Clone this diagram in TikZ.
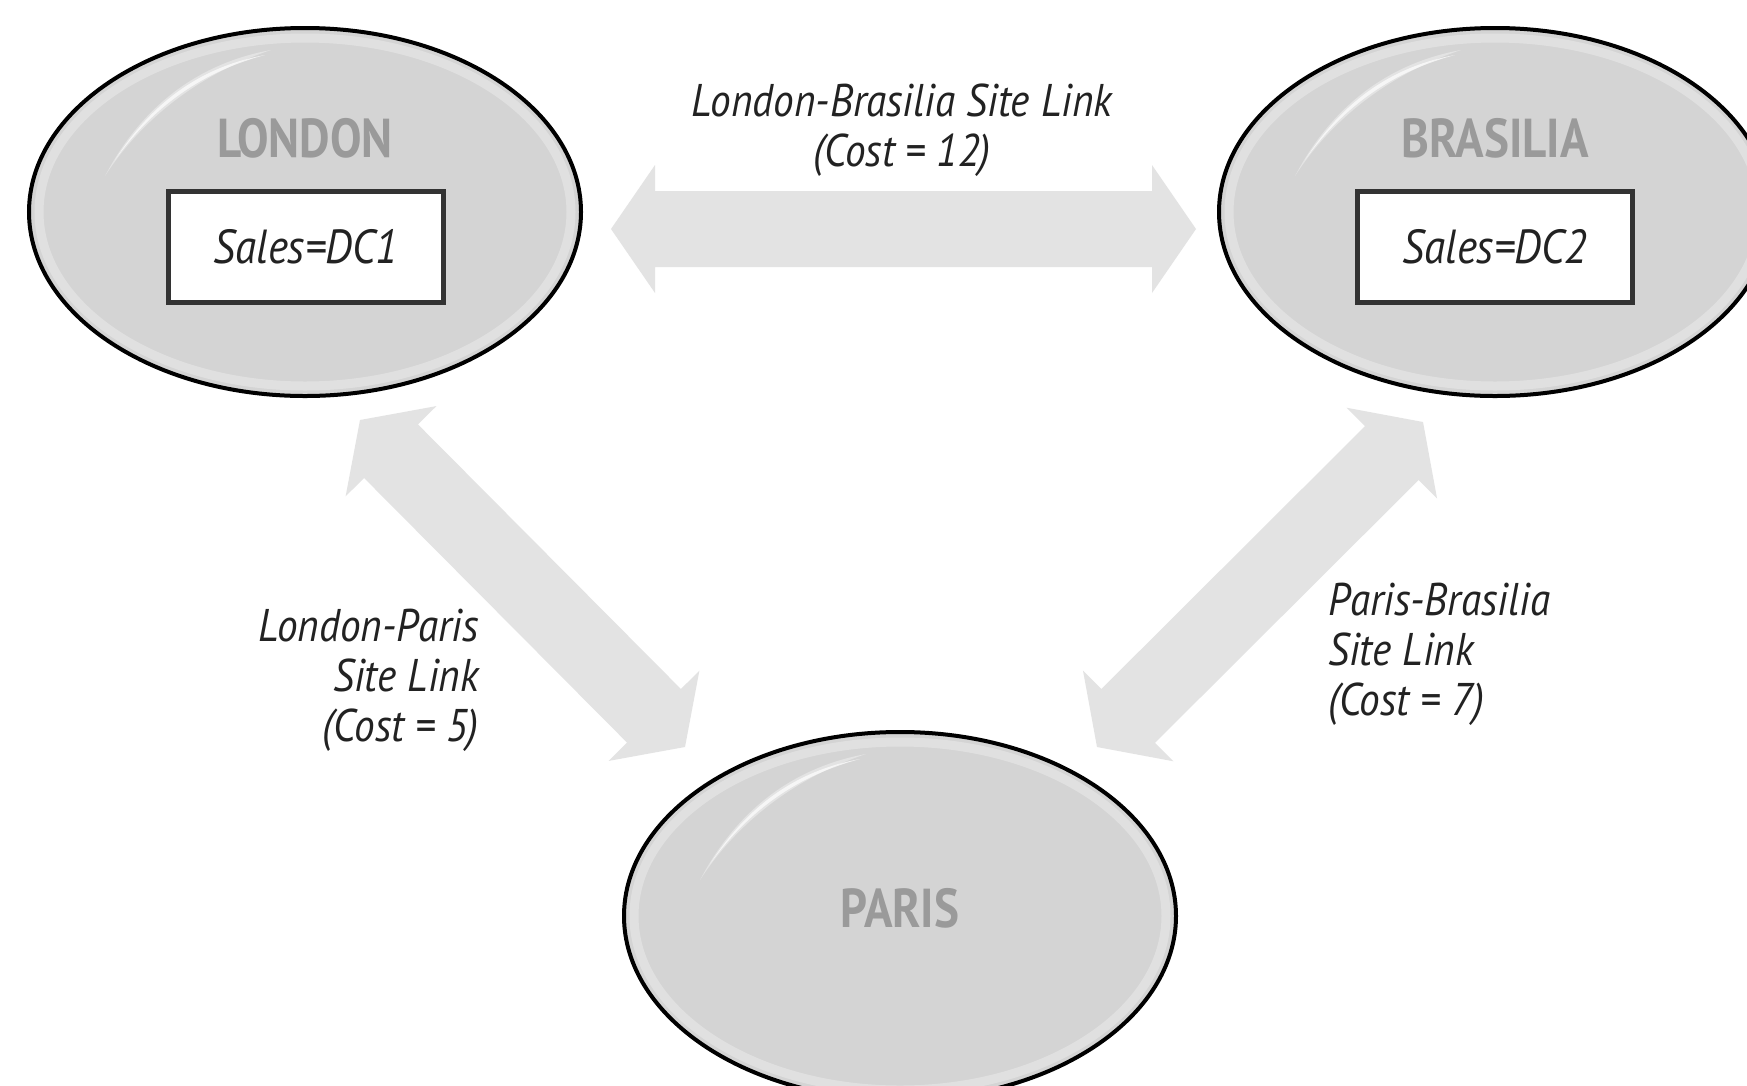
\documentclass[tikz,border=0pt]{standalone}
\usepackage{fontspec}
\usetikzlibrary{shapes.geometric,calc}
\newfontfamily\linkfont[FakeStretch=0.9]{PT Sans}
\newfontfamily\cityfont[FakeStretch=0.86]{PT Sans}
\definecolor{sitefill}{HTML}{D4D4D4}
\definecolor{citygray}{HTML}{9A9A9A}
\definecolor{boxline}{HTML}{333333}
\definecolor{linkgray}{HTML}{E3E3E3}
\definecolor{labeltext}{HTML}{222222}

\tikzset{
  site/.style={ellipse, draw=black, line width=4bp, fill=sitefill,
    minimum width=552bp, minimum height=368bp, inner sep=0pt},
  cityname/.style={font=\cityfont\bfseries\fontsize{55}{60}\selectfont,
    text=citygray, inner sep=0pt},
  dcbox/.style={draw=boxline, line width=5bp, fill=white,
    minimum width=275bp, minimum height=111bp, inner sep=0pt,
    font=\linkfont\itshape\fontsize{48}{54}\selectfont, text=labeltext},
  linklabel/.style={font=\linkfont\itshape\fontsize{46}{50}\selectfont,
    text=labeltext, inner sep=0pt},
  linkarrow/.style={fill=linkgray},
}

% glossy rim and highlight streak on a site ellipse
\newcommand\sitegloss[1]{%
  \begin{scope}[shift={(#1.center)}]
    \draw[white, opacity=0.3, line width=9bp]
      (0,0) ellipse [x radius=266, y radius=174];
    \fill[white, opacity=0.35]
      (-200,-36) .. controls (-160,-112) and (-100,-150) .. (-34,-162)
      .. controls (-100,-140) and (-160,-98) .. cycle;
    \fill[white, opacity=0.7]
      (-190,-52) .. controls (-150,-114) and (-100,-146) .. (-40,-157)
      .. controls (-100,-141) and (-150,-108) .. cycle;
  \end{scope}}

% broad double-headed link arrow between two tips
\newcommand\sitelink[2]{%
  \fill[linkarrow] (#1)
    -- ($(#1)!44bp!(#2)!64bp!90:(#2)$)
    -- ($(#1)!44bp!(#2)!38bp!90:(#2)$)
    -- ($(#2)!44bp!(#1)!38bp!-90:(#1)$)
    -- ($(#2)!44bp!(#1)!64bp!-90:(#1)$)
    -- (#2)
    -- ($(#2)!44bp!(#1)!64bp!90:(#1)$)
    -- ($(#2)!44bp!(#1)!38bp!90:(#1)$)
    -- ($(#1)!44bp!(#2)!38bp!-90:(#2)$)
    -- ($(#1)!44bp!(#2)!64bp!-90:(#2)$)
    -- cycle;}

\begin{document}
\begin{tikzpicture}[x=1bp, y=-1bp]
  \useasboundingbox (0,0) rectangle (1747,1085);
  \fill[white] (0,0) rectangle (1747,1085);
  \clip (0,0) rectangle (1747,1085);

  % sites
  \node[site] (london)   at (305,212) {};
  \node[site] (brasilia) at (1495,212) {};
  \node[site] (paris)    at (900,916) {};
  \sitegloss{london}
  \sitegloss{brasilia}
  \sitegloss{paris}

  \node[cityname] (londonname)   at (305,138) {LONDON};
  \node[cityname] (brasilianame) at (1495,138) {BRASILIA};
  \node[cityname] (parisname)    at (900,908) {PARIS};

  \node[dcbox] (dc1) at (306,247) {Sales=DC1};
  \node[dcbox] (dc2) at (1495,247) {Sales=DC2};

  % link arrow tips
  \coordinate (lb-l) at (611,229);
  \coordinate (lb-b) at (1196,229);
  \coordinate (lp-l) at (360,420);
  \coordinate (lp-p) at (685,747);
  \coordinate (pb-p) at (1097,747);
  \coordinate (pb-b) at (1423,422);

  \sitelink{lb-l}{lb-b}
  \sitelink{lp-l}{lp-p}
  \sitelink{pb-p}{pb-b}

  % link labels
  \node[linklabel, align=center] (lblabel) at (902,130)
    {London-Brasilia Site Link\\(Cost = 12)};
  \node[linklabel, align=right, anchor=east] (lplabel) at (479,680)
    {London-Paris\\Site Link\\(Cost = 5)};
  \node[linklabel, align=left, anchor=west] (pblabel) at (1328,654)
    {Paris-Brasilia\\Site Link\\(Cost = 7)};
\end{tikzpicture}
\end{document}
